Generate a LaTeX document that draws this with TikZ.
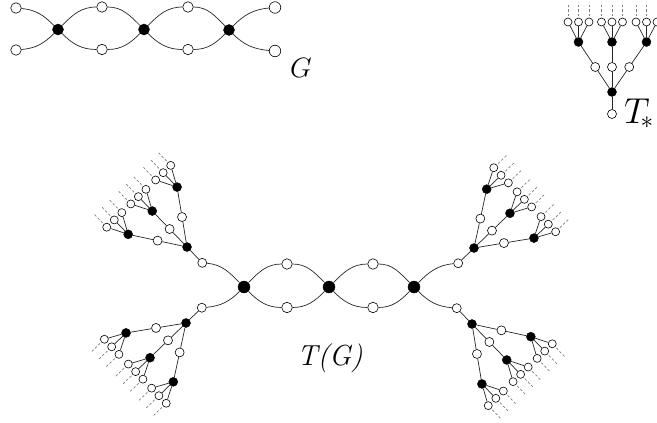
\RequirePackage{fix-cm}
\documentclass[tikz,border=0pt]{standalone}
\tikzset{
  edge/.style={draw=black!85, line width=0.7pt},
  dashline/.style={draw=black!50, line width=0.7pt, dash pattern=on 2.5pt off 2pt},
  wn/.style={circle, draw=black, fill=white, line width=0.6pt, inner sep=0pt, minimum size=9pt},
  lf/.style={wn, minimum size=8pt},
  bn/.style={circle, fill=black, draw=black, line width=0.4pt, inner sep=0pt, minimum size=9pt},
  bigw/.style={wn, minimum size=10.5pt},
  bigb/.style={bn, minimum size=12pt},
  tstar/.pic={
    \node[bn] (-h) at (0pt,0pt) {};
    \node[wn] (-r) at (0pt,-22pt) {};
    \draw[edge] (-r) -- (-h);
    \foreach \i/\x in {1/-33.5,2/0,3/34.5}{
      \node[bn] (-b\i) at (\x pt,50pt) {};
      \node[wn] (-m\i) at ({\x*0.5pt},25pt) {};
      \draw[edge] (-h) -- (-m\i) -- (-b\i);
      \foreach \k in {1,2,3}{
        \node[lf] (-l\i\k) at ({(\x+(\k-2)*10.5)*1pt},70pt) {};
        \coordinate (-s\i\k) at ({(\x+(\k-2)*10.5)*1pt},76pt);
        \coordinate (-e\i\k) at ({(\x+(\k-2)*10.5)*1pt},89pt);
        \draw[edge] (-b\i) -- (-l\i\k);
        \draw[dashline] (-s\i\k) -- (-e\i\k);
      }
    }
  }
}
\begin{document}
\begin{tikzpicture}[x=1pt,y=-1pt]
\useasboundingbox (0,0) rectangle (657,423);
% ---------- graph G ----------
\node[bn, minimum size=11pt] (g1) at (58,29.5) {};
\node[bn, minimum size=11pt] (g2) at (144,29.5) {};
\node[bn, minimum size=11pt] (g3) at (229,30) {};
\node[bigw] (ga) at (16,8) {};
\node[bigw] (gb) at (16,50) {};
\node[bigw] (gc) at (102,7) {};
\node[bigw] (gd) at (102,49.5) {};
\node[bigw] (ge) at (188,7) {};
\node[bigw] (gf) at (188,49.5) {};
\node[bigw, minimum size=11.5pt] (gg) at (275,7.5) {};
\node[bigw, minimum size=11.5pt] (gh) at (275,51) {};
\draw[edge] (g1) to[out=135,in=-5] (ga);
\draw[edge] (g1) to[out=-135,in=5] (gb);
\draw[edge] (g1) to[out=45,in=180] (gc) to[out=0,in=135] (g2);
\draw[edge] (g1) to[out=-45,in=180] (gd) to[out=0,in=-135] (g2);
\draw[edge] (g2) to[out=45,in=180] (ge) to[out=0,in=135] (g3);
\draw[edge] (g2) to[out=-45,in=180] (gf) to[out=0,in=-135] (g3);
\draw[edge] (g3) to[out=45,in=185] (gg);
\draw[edge] (g3) to[out=-45,in=175] (gh);
\node[anchor=base west, inner sep=0pt] (lg) at (290,77) {\fontsize{28}{30}\selectfont $G$};
% ---------- T_* ----------
\pic (ts) at (612,92) {tstar};
\node[anchor=base west, inner sep=0pt] (lt) at (624,123) {\fontsize{36}{40}\selectfont $T_{\!*}$};
% ---------- T(G) ----------
\pic[rotate=44] (ul) at (187,247) {tstar};
\pic[rotate=-46] (ur) at (474,248) {tstar};
\pic[rotate=134] (ll) at (186,323) {tstar};
\pic[rotate=-136] (lr) at (472,324) {tstar};
\node[bigb] (t1) at (244,287) {};
\node[bigb] (t2) at (329,287) {};
\node[bigb] (t3) at (414,287) {};
\node[bigw] (ta) at (287,264) {};
\node[bigw] (tb) at (287,307.5) {};
\node[bigw] (tc) at (373,264) {};
\node[bigw] (td) at (373,307.5) {};
\draw[edge] (t1) to[out=135,in=-5] (ul-r);
\draw[edge] (t1) to[out=-135,in=5] (ll-r);
\draw[edge] (t1) to[out=45,in=180] (ta) to[out=0,in=135] (t2);
\draw[edge] (t1) to[out=-45,in=180] (tb) to[out=0,in=-135] (t2);
\draw[edge] (t2) to[out=45,in=180] (tc) to[out=0,in=135] (t3);
\draw[edge] (t2) to[out=-45,in=180] (td) to[out=0,in=-135] (t3);
\draw[edge] (t3) to[out=45,in=185] (ur-r);
\draw[edge] (t3) to[out=-45,in=175] (lr-r);
\node[anchor=base west, inner sep=0pt] (ltg) at (297,365) {\fontsize{29}{32}\selectfont\itshape T(G)};
\end{tikzpicture}
\end{document}
